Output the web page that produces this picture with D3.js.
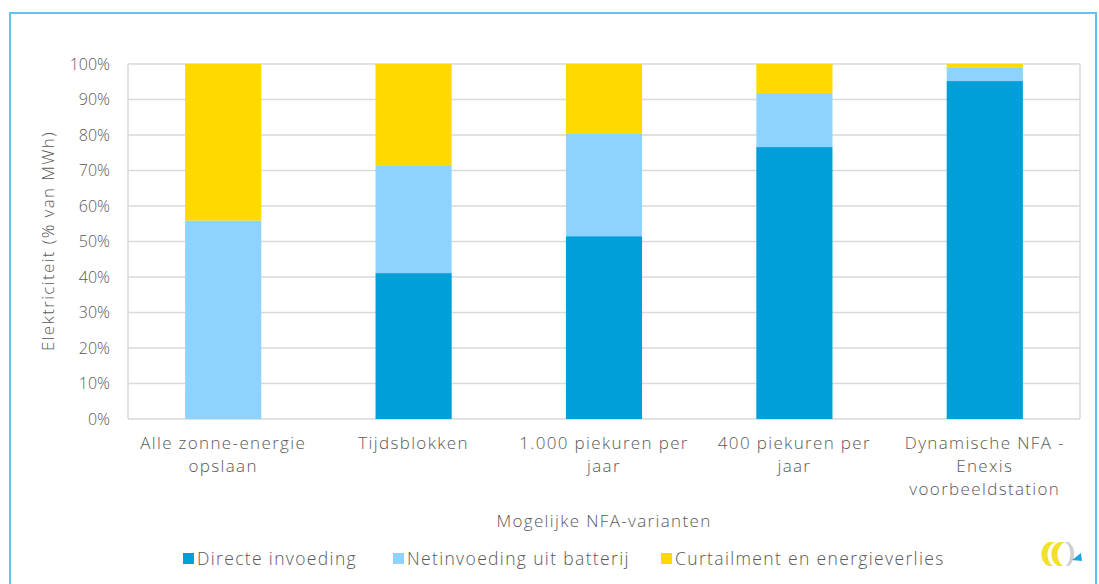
<!DOCTYPE html>
<html><head><meta charset="utf-8">
<script src="https://cdn.jsdelivr.net/npm/d3@7"></script>
<style>
body{margin:0;background:#fff;}
text{font-family:"Open Sans","Noto Sans",sans-serif;font-weight:300;fill:#595959;}
.ls{letter-spacing:1.35px;}
</style></head>
<body><svg id="c" width="1099" height="584"></svg>
<script>
const categories = [
  ["Alle zonne-energie","opslaan"],
  ["Tijdsblokken"],
  ["1.000 piekuren per","jaar"],
  ["400 piekuren per","jaar"],
  ["Dynamische NFA -","Enexis","voorbeeldstation"]
];
const seriesNames = ["Directe invoeding","Netinvoeding uit batterij","Curtailment en energieverlies"];
const directe = [0, 41.1, 51.5, 76.6, 95.2];
const netinvoeding = [55.9, 30.4, 28.8, 15.2, 3.7];
const curtailment = [44.1, 28.5, 19.7, 8.2, 1.1];
const colors = ["#009FDA","#8ED3FF","#FFD900"];
const yTicks = [0,10,20,30,40,50,60,70,80,90,100];

const svg = d3.select("#c");
// frame
svg.append("rect").attr("x",10).attr("y",13).attr("width",1086).attr("height",600)
  .attr("fill","none").attr("stroke","#5BC5F0").attr("stroke-width",2);

const m = {l:128, r:1080, t:64, b:419};
const x = d3.scaleBand().domain(d3.range(categories.length)).range([m.l,m.r]).paddingInner(0.6).paddingOuter(0.3);
const y = d3.scaleLinear().domain([0,100]).range([m.b,m.t]);

// grid
svg.append("g").selectAll("line").data(yTicks).join("line")
  .attr("x1",m.l).attr("x2",m.r).attr("y1",d=>y(d)).attr("y2",d=>y(d))
  .attr("stroke","#d9d9d9").attr("stroke-width",1.5);
svg.append("line").attr("x1",m.l).attr("x2",m.l).attr("y1",m.t).attr("y2",m.b).attr("stroke","#d9d9d9").attr("stroke-width",1.5);
svg.append("line").attr("x1",m.r).attr("x2",m.r).attr("y1",m.t).attr("y2",m.b).attr("stroke","#d9d9d9").attr("stroke-width",1.5);

// stacked data
const rows = categories.map((c,i)=>({i, a:directe[i], b:netinvoeding[i], c:curtailment[i]}));
const stack = d3.stack().keys(["a","b","c"])(rows);
svg.append("g").selectAll("g").data(stack).join("g").attr("fill",(d,i)=>colors[i])
  .selectAll("rect").data(d=>d).join("rect")
  .attr("x",d=>x(d.data.i)).attr("width",x.bandwidth())
  .attr("y",d=>y(d[1])).attr("height",d=>Math.max(0,y(d[0])-y(d[1])));

// y axis labels
const ya = svg.append("g").attr("transform",`translate(${m.l},0)`)
  .call(d3.axisLeft(y).tickValues(yTicks).tickFormat(d=>d+"%").tickSize(0).tickPadding(18));
ya.select(".domain").remove();
ya.selectAll("text").attr("font-size",16).attr("fill","#595959").attr("font-family",null);

// x labels
const xl = svg.append("g").selectAll("text").data(categories).join("text")
  .attr("class","ls").attr("text-anchor","middle").attr("font-size",17)
  .attr("x",(d,i)=>x(i)+x.bandwidth()/2).attr("y",449);
xl.selectAll("tspan").data(d=>d).join("tspan")
  .attr("x",function(){return this.parentNode.getAttribute("x");})
  .attr("dy",(d,j)=>j===0?0:23).text(d=>d);

// axis titles
svg.append("text").attr("class","ls").attr("text-anchor","middle").attr("font-size",17)
  .attr("transform","translate(54,241) rotate(-90)").text("Elektriciteit (% van MWh)");
svg.append("text").attr("class","ls").attr("text-anchor","middle").attr("font-size",17)
  .attr("x",(m.l+m.r)/2).attr("y",527).text("Mogelijke NFA-varianten");

// legend
const legX = [183, 393, 661];
const lg = svg.append("g").selectAll("g").data(seriesNames).join("g")
  .attr("transform",(d,i)=>`translate(${legX[i]},559)`);
lg.append("rect").attr("x",0).attr("y",-6).attr("width",11).attr("height",11).attr("fill",(d,i)=>colors[i]);
lg.append("text").attr("class","ls").attr("x",14).attr("y",6).attr("font-size",17.5).text(d=>d);

// logo
const lgo = svg.append("g").attr("transform","translate(1036,538)");
lgo.append("path").attr("d","M14,4 C4,6 2,22 12,28 L17,28 C9,22 10,8 19,4 Z").attr("fill","#F2E12A");
lgo.append("path").attr("d","M24,4 C14,6 12,22 22,28 L27,28 C19,22 20,8 29,4 Z").attr("fill","#F2E12A");
lgo.append("path").attr("d","M29,4 C36,8 36,22 30,28 L33,28 C40,22 40,8 32,4 Z").attr("fill","#cfcfcf");
lgo.append("path").attr("d","M36,22 L45,15 L46,23 Z").attr("fill","#1FA3E0");
</script></body></html>
